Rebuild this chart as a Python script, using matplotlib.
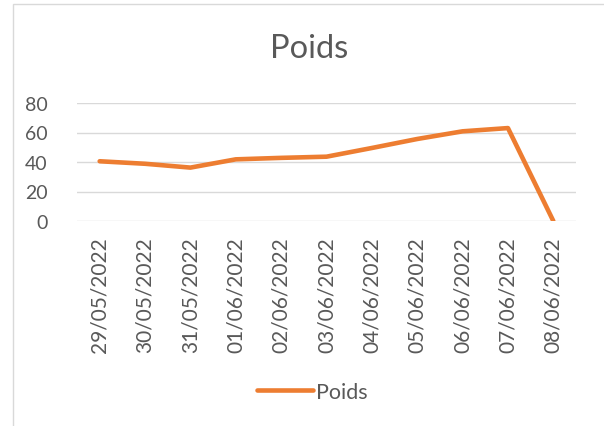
import matplotlib.pyplot as plt
from matplotlib.patches import Rectangle

dates = ['29/05/2022', '30/05/2022', '31/05/2022', '01/06/2022', '02/06/2022',
         '03/06/2022', '04/06/2022', '05/06/2022', '06/06/2022', '07/06/2022',
         '08/06/2022']
poids = [40.5, 38.8, 36.2, 41.8, 42.8, 43.6, 49.5, 55.6, 60.8, 63.0, 0]
yticks = [0, 20, 40, 60, 80]

plt.rcParams['font.family'] = ['Lato', 'DejaVu Sans']
grey = '#595959'

fig = plt.figure(figsize=(6.04, 4.27), dpi=100)
# chart border
fig.patches.append(Rectangle((13/604, -0.1), 1.0, 1 - 5/427 + 0.1, transform=fig.transFigure,
                             fill=False, edgecolor='#D9D9D9', linewidth=1))

ax = fig.add_axes([77/604, 1 - 222/427, 499/604, 118/427])
x = list(range(len(dates)))
line, = ax.plot(x, poids, color='#ED7D31', linewidth=3.3, solid_capstyle='round',
                solid_joinstyle='round', label='Poids', zorder=3)
ax.set_xlim(-0.5, len(dates) - 0.5)
ax.set_ylim(0, 80)
ax.set_yticks(yticks)
ax.set_xticks(x)
ax.set_xticklabels(dates, rotation=90, fontsize=15, color=grey)
ax.tick_params(axis='y', labelsize=14, colors=grey, length=0, pad=21)
ax.tick_params(axis='x', length=0, pad=11)
ax.grid(axis='y', color='#D9D9D9', linewidth=1)
ax.set_axisbelow(True)
for s in ax.spines.values():
    s.set_visible(False)

fig.text(309/604, 1 - 49/427, 'Poids', ha='center', va='center', fontsize=23.5, color=grey)
fig.legend(handles=[line], loc='center', bbox_to_anchor=(312/604, 1 - 393/427),
           frameon=False, fontsize=15.5, labelcolor=grey, handlelength=2.6,
           handletextpad=0.15)

fig.savefig('out.png', dpi=100)
